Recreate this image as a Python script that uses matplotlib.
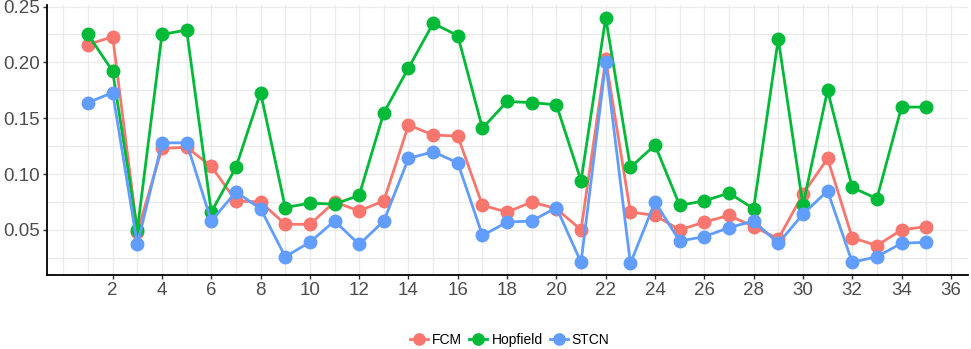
import matplotlib
matplotlib.use('Agg')
import matplotlib.pyplot as plt

plt.rcParams['font.family'] = ['Liberation Sans', 'DejaVu Sans']

idx = list(range(1, 36))
fcm = [0.216, 0.223, 0.048, 0.123, 0.124, 0.107, 0.076, 0.075, 0.055, 0.055,
       0.075, 0.067, 0.076, 0.144, 0.135, 0.134, 0.072, 0.066, 0.075, 0.069,
       0.050, 0.203, 0.066, 0.063, 0.050, 0.057, 0.063, 0.053, 0.042, 0.082,
       0.114, 0.043, 0.036, 0.050, 0.053]
hopfield = [0.225, 0.192, 0.050, 0.225, 0.229, 0.066, 0.106, 0.173, 0.070, 0.074,
            0.073, 0.081, 0.155, 0.195, 0.235, 0.224, 0.141, 0.165, 0.164, 0.162,
            0.094, 0.240, 0.106, 0.126, 0.072, 0.076, 0.083, 0.069, 0.221, 0.072,
            0.175, 0.088, 0.078, 0.160, 0.160]
stcn = [0.164, 0.173, 0.037, 0.128, 0.128, 0.058, 0.084, 0.069, 0.026, 0.039,
        0.058, 0.037, 0.058, 0.114, 0.120, 0.110, 0.045, 0.057, 0.058, 0.070,
        0.021, 0.200, 0.020, 0.075, 0.040, 0.044, 0.052, 0.058, 0.038, 0.064,
        0.085, 0.021, 0.026, 0.038, 0.039]

series = [('FCM', fcm, '#F8766D'), ('Hopfield', hopfield, '#00BA38'), ('STCN', stcn, '#619CFF')]

fig = plt.figure(figsize=(9.71, 3.49), dpi=100)
ax = fig.add_axes([0.048, 0.211, 0.949, 0.775])

for name, vals, col in series:
    ax.plot(idx, vals, '-o', color=col, lw=2, markersize=9, label=name)

ax.set_xlim(-0.68, 36.7)
ax.set_ylim(0.0093, 0.2515)
ax.set_xticks(range(2, 37, 2))
ax.set_xticks(range(0, 37, 1), minor=True)
ax.set_yticks([0.05, 0.10, 0.15, 0.20, 0.25])
ax.set_yticks([0.025, 0.075, 0.125, 0.175, 0.225], minor=True)
ax.set_yticklabels(['0.05', '0.10', '0.15', '0.20', '0.25'])
ax.grid(True, which='both', color='#EBEBEB', lw=1)
ax.set_axisbelow(True)

for s in ['top', 'right']:
    ax.spines[s].set_visible(False)
for s in ['left', 'bottom']:
    ax.spines[s].set_linewidth(1.3)
    ax.spines[s].set_color('black')

ax.tick_params(which='major', length=3, width=1, color='#333333', labelsize=13.5,
               labelcolor='#4D4D4D', pad=2)
ax.tick_params(which='minor', length=0)

leg = fig.legend(loc='center', bbox_to_anchor=(0.525, 0.025), ncol=3, frameon=False,
                 fontsize=10, handlelength=1.3, handletextpad=0.3, columnspacing=0.5,
                 markerscale=0.9)

fig.savefig('out.png', dpi=100)
